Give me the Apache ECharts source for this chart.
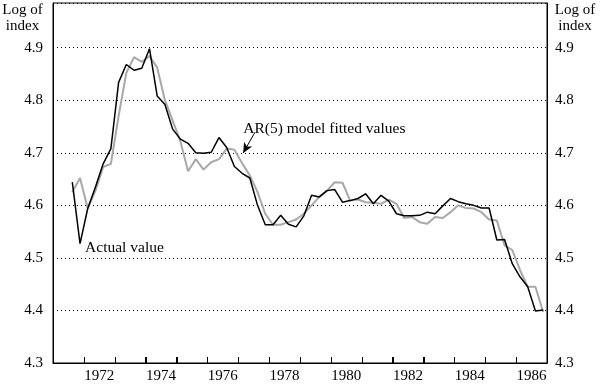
<!DOCTYPE html>
<html>
<head>
<meta charset="utf-8">
<script src="https://cdn.jsdelivr.net/npm/echarts@6/dist/echarts.min.js"></script>
<style>
html,body{margin:0;padding:0;background:#fff;}
#c{width:600px;height:384px;}
</style>
</head>
<body>
<div id="c"></div>
<script>
// Quarterly observations, 1971 Q3 to 1986 Q4
var startYear = 1971, startQuarter = 3;
var yearCategories = ['1971','1972','1973','1974','1975','1976','1977','1978','1979','1980','1981','1982','1983','1984','1985','1986'];
var yearTicks = [1972,1973,1974,1975,1976,1977,1978,1979,1980,1981,1982,1983,1984,1985,1986];
var yTicks = [4.3, 4.4, 4.5, 4.6, 4.7, 4.8, 4.9];
var actual = [
  4.644, 4.527, 4.594, 4.635, 4.679, 4.708, 4.834, 4.868, 4.857, 4.861,
  4.898, 4.808, 4.792, 4.745, 4.726, 4.718, 4.700, 4.699, 4.701, 4.729,
  4.710, 4.674, 4.661, 4.652, 4.600, 4.563, 4.563, 4.581, 4.564, 4.559,
  4.580, 4.619, 4.616, 4.628, 4.630, 4.606, 4.609, 4.613, 4.622, 4.603,
  4.619, 4.608, 4.584, 4.580, 4.580, 4.581, 4.587, 4.584, 4.599, 4.613,
  4.607, 4.603, 4.600, 4.595, 4.595, 4.534, 4.535, 4.489, 4.464, 4.445,
  4.399, 4.401
];
var fitted = [
  4.625, 4.652, 4.594, 4.628, 4.673, 4.679, 4.770, 4.852, 4.882, 4.873,
  4.884, 4.862, 4.800, 4.761, 4.722, 4.665, 4.688, 4.668, 4.682, 4.688,
  4.708, 4.706, 4.680, 4.657, 4.625, 4.584, 4.563, 4.563, 4.568, 4.573,
  4.584, 4.600, 4.616, 4.628, 4.644, 4.643, 4.609, 4.611, 4.606, 4.605,
  4.603, 4.611, 4.603, 4.576, 4.578, 4.568, 4.565, 4.578, 4.576, 4.587,
  4.600, 4.595, 4.594, 4.587, 4.573, 4.571, 4.524, 4.515, 4.477, 4.445,
  4.445, 4.397
];
var actualLabel = 'Actual value';
var fittedLabel = 'AR(5) model fitted values';
var axisTitle = 'Log of\nindex';

function quarterPos(i) {
  var q = startQuarter - 1 + i;
  return startYear + Math.floor(q / 4) + ((q % 4) + 0.5) / 4;
}
function pairs(arr) { return arr.map(function (v, i) { return [quarterPos(i), v]; }); }

var FONT = 'Liberation Serif';
var yMin = yTicks[0], yMax = 4.985;
function yFmt(v) {
  for (var i = 0; i < yTicks.length; i++) if (Math.abs(v - yTicks[i]) < 1e-6) return yTicks[i].toFixed(1);
  return '';
}

var chart = echarts.init(document.getElementById('c'), null, {renderer: 'canvas'});
chart.setOption({
  animation: false,
  backgroundColor: '#fff',
  grid: {left: 53, right: 53, top: 3, bottom: 19, show: true, borderColor: '#000', borderWidth: 1, backgroundColor: 'transparent'},
  xAxis: [{
    type: 'category', data: yearCategories, boundaryGap: true, position: 'bottom',
    axisLine: {show: true, lineStyle: {color: '#000', width: 1}},
    axisTick: {show: true, inside: true, length: 6, interval: 0, lineStyle: {color: '#000', width: 1}},
    axisLabel: {interval: function (idx, val) { return (+val) % 2 === 0; }, color: '#000', fontFamily: FONT, fontSize: 15, margin: 6},
    splitLine: {show: false}
  }, {
    type: 'value', min: 1971, max: 1987, show: false, splitLine: {show: false}
  }],
  yAxis: [{
    type: 'value', min: yMin, max: yMax, interval: 0.1, position: 'left',
    axisLine: {show: true, lineStyle: {color: '#000'}}, axisTick: {show: false},
    axisLabel: {formatter: yFmt, color: '#000', fontFamily: FONT, fontSize: 15, margin: 10, showMaxLabel: false},
    splitLine: {show: true, lineStyle: {color: '#000', type: [1, 3], width: 1}}
  }, {
    type: 'value', min: yMin, max: yMax, interval: 0.1, position: 'right',
    axisLine: {show: true, lineStyle: {color: '#000'}}, axisTick: {show: false},
    axisLabel: {formatter: yFmt, color: '#000', fontFamily: FONT, fontSize: 15, margin: 8, showMaxLabel: false},
    splitLine: {show: false}
  }],
  series: [{
    name: 'yearTicks', type: 'custom', xAxisIndex: 1, yAxisIndex: 0, silent: true, clip: false, z: 5,
    data: yearTicks.map(function (y) { return [y, yMin]; }),
    encode: {x: 0, y: 1},
    renderItem: function (params, api) {
      var p = api.coord([api.value(0), api.value(1)]);
      var x = Math.round(p[0]) + 0.5;
      return {type: 'line', shape: {x1: x, y1: p[1], x2: x, y2: p[1] - 6}, style: {stroke: '#000', lineWidth: 1}};
    }
  }, {
    name: 'fitted', type: 'line', xAxisIndex: 1, yAxisIndex: 0, data: pairs(fitted),
    showSymbol: false, symbol: 'none', lineStyle: {color: '#a8a8a8', width: 2}, z: 2
  }, {
    name: 'actual', type: 'line', xAxisIndex: 1, yAxisIndex: 0, data: pairs(actual),
    showSymbol: false, symbol: 'none', lineStyle: {color: '#000', width: 1.5}, z: 3,
    markLine: {
      silent: true, symbol: ['none', 'arrow'], symbolSize: [7, 10],
      label: {show: false}, lineStyle: {color: '#000', width: 1, type: 'solid'},
      data: [[{coord: [1977.54, 4.739]}, {coord: [1977.16, 4.6996]}]]
    }
  }]
});

var pA = chart.convertToPixel({xAxisIndex: 1, yAxisIndex: 0}, [1972.04, 4.519]);
var pF = chart.convertToPixel({xAxisIndex: 1, yAxisIndex: 0}, [1977.16, 4.7445]);
chart.setOption({
  graphic: [
    {type: 'text', style: {text: axisTitle, x: 22.5, y: 2, textAlign: 'center', textVerticalAlign: 'top', font: '15px "' + FONT + '"', lineHeight: 16, fill: '#000'}},
    {type: 'text', style: {text: axisTitle, x: 575, y: 2, textAlign: 'center', textVerticalAlign: 'top', font: '15px "' + FONT + '"', lineHeight: 16, fill: '#000'}},
    {type: 'text', style: {text: actualLabel, x: pA[0], y: pA[1], textAlign: 'left', textVerticalAlign: 'middle', font: '15.5px "' + FONT + '"', fill: '#000'}},
    {type: 'text', style: {text: fittedLabel, x: pF[0], y: pF[1], textAlign: 'left', textVerticalAlign: 'middle', font: '15.5px "' + FONT + '"', fill: '#000'}}
  ]
});
</script>
</body>
</html>
